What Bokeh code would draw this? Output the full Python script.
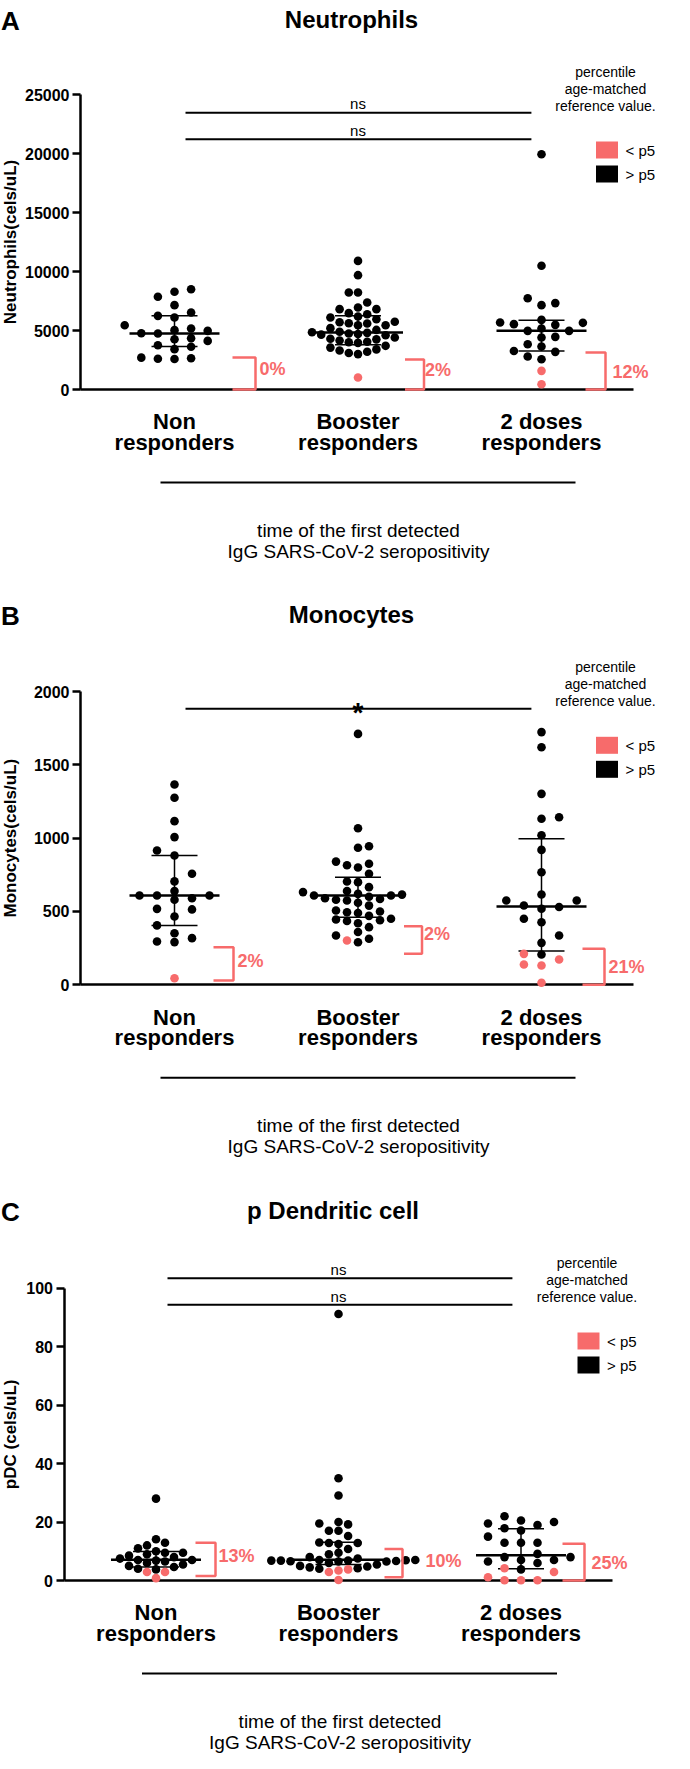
import numpy as np
from bokeh.plotting import figure
from bokeh.models import Range1d, FixedTicker, LinearAxis
from bokeh.embed import file_html
from bokeh.resources import INLINE
from bokeh.core.properties import value

FONT = "Liberation Sans"
RED = "#F76B6B"

# ---------------- data ----------------
cat_line1 = ["Non", "Booster", "2 doses"]
cat_line2 = ["responders", "responders", "responders"]

# Neutrophils (cels/uL): values above p5 (black) and below p5 (red)
neut_non = [8500, 8280, 7860, 7150, 6530, 6240, 6100, 5450, 5170, 5030, 4970, 4770,
            4750, 4350, 4260, 4120, 3750, 3620, 3420, 2700, 2650, 2600, 2580]
neut_non_low = []
neut_boost = [10900, 9690, 8220, 8220, 7370, 6950, 6810, 6810, 6470, 6380, 6190, 6100,
              5960, 5740, 5700, 5620, 5600, 5450, 5450, 5200, 5050, 4900, 4850, 4800,
              4750, 4700, 4650, 4600, 4400, 4300, 4250, 4150, 4050, 4000, 3950, 3700,
              3550, 3400, 3300, 3200, 3100, 3000]
neut_boost_low = [1020]
neut_two = [19940, 10480, 7740, 7320, 7150, 5900, 5680, 5650, 5540, 5480, 5170, 4970,
            4970, 4460, 4410, 3840, 3640, 3270, 3190, 2800, 2570]
neut_two_low = [1580, 450]
neut_median = [4750, 4830, 4970]
neut_q1 = [3640, 3790, 3270]
neut_q3 = [6240, 6240, 5870]
neut_p5 = [2712, 2542, 3136]
neut_pct = ["0%", "2%", "12%"]

# Monocytes (cels/uL)
mono_non = [1366, 1275, 1116, 1007, 916, 882, 757, 705, 639, 609, 609, 609, 590, 580,
            518, 514, 466, 405, 352, 318, 295, 291]
mono_non_low = [45]
mono_boost = [1711, 1068, 945, 935, 840, 825, 815, 800, 757, 705, 700, 666, 639, 632,
              620, 615, 609, 609, 600, 590, 585, 580, 575, 560, 540, 507, 500, 495, 490,
              470, 450, 445, 440, 435, 420, 393, 360, 336, 314, 290]
mono_boost_low = [302]
mono_two = [1723, 1620, 1302, 1143, 1132, 1020, 920, 768, 616, 575, 575, 541, 530, 518,
            450, 427, 336, 286, 207]
mono_two_low = [211, 173, 139, 132, 14]
mono_median = [609, 609, 534]
mono_q1 = [405, 461, 230]
mono_q3 = [882, 734, 996]
mono_p5_top = [256, 400, 245]
mono_p5_bottom = [30, 211, 0]
mono_pct = ["2%", "2%", "21%"]

# pDC (cels/uL)
pdc_non = [28, 14.1, 12.9, 12, 11, 10, 9.5, 9.5, 9, 8.5, 8, 7.5, 7, 7, 6.8, 6.5, 6, 5.5,
           5, 4.6, 4, 3.8]
pdc_non_low = [2.9, 2.9, 0.8]
pdc_boost = [91.2, 35, 29.1, 20, 19.5, 19.2, 17, 17, 15.2, 13, 12.8, 12.8, 12.5, 10.8,
             9.5, 9, 8, 7.5, 7, 7, 6.9, 6.8, 6.8, 6.8, 6.7, 6.6, 6.5, 6.5, 6, 5.5, 5,
             4.8, 4.5, 4.2, 4]
pdc_boost_low = [3.8, 3.4, 2.9, 0.2]
pdc_two = [22, 20.5, 20, 19.5, 19, 17.9, 17.1, 15, 12.9, 12.9, 12.9, 9.1, 8, 8, 7, 7,
           6.5, 6, 3.8]
pdc_two_low = [4.2, 2.9, 1.1, 0.1, 0.1, 0.1]
pdc_median = [7.1, 7.1, 8.6]
pdc_q1 = [4.6, 5.5, 4.0]
pdc_q3 = [9.9, 13.1, 17.7]
pdc_p5_top = [12.9, 10.8, 12.6]
pdc_p5_bottom = [1.5, 1.1, 0]
pdc_pct = ["13%", "10%", "25%"]

# ---------------- panels: data + layout ----------------
PANELS = [
    dict(name="default", letter="A", title="Neutrophils", ylabel="Neutrophils(cels/uL)",
         ticks=[0, 5000, 10000, 15000, 20000, 25000], ymax=25000,
         black=[neut_non, neut_boost, neut_two], red=[neut_non_low, neut_boost_low, neut_two_low],
         med=neut_median, q1=neut_q1, q3=neut_q3,
         p5_top=neut_p5, p5_bottom=[0, 0, 0], pct=neut_pct,
         sig_y=[23450, 21210], sig_txt=["ns", "ns"], sig_txt_y=[24237, 21975],
         sig_x=(1.06, 2.945), sig_size="15px", sig_bold=False,
         shift=5, axis_x=88, g1_x=182, k=183.5, base=392,
         ky=295 / 25000, swarm_s=[16.6, 9.2, 13.8],
         br_px=[(58, 81), (47, 66), (44, 64)], pct_dx=[85, 67, 71], pct_up=[20.3, 19.5, 17.5]),
    dict(name="B", letter="B", title="Monocytes", ylabel="Monocytes(cels/uL)",
         ticks=[0, 500, 1000, 1500, 2000], ymax=2000,
         black=[mono_non, mono_boost, mono_two], red=[mono_non_low, mono_boost_low, mono_two_low],
         med=mono_median, q1=mono_q1, q3=mono_q3,
         p5_top=mono_p5_top, p5_bottom=mono_p5_bottom, pct=mono_pct,
         sig_y=[1882], sig_txt=["*"], sig_txt_y=[1857],
         sig_x=(1.06, 2.945), sig_size="28px", sig_bold=True,
         shift=-2, axis_x=88, g1_x=182, k=183.5, base=994.3,
         ky=293.3 / 2000, swarm_s=[17.5, 11.0, 17.6],
         br_px=[(39, 59), (46, 64), (41, 63)], pct_dx=[63, 66, 67], pct_up=[24.3, 51, 17.6]),
    dict(name="C", letter="C", title="p Dendritic cell", ylabel="pDC (cels/uL)",
         ticks=[0, 20, 40, 60, 80, 100], ymax=100,
         black=[pdc_non, pdc_boost, pdc_two], red=[pdc_non_low, pdc_boost_low, pdc_two_low],
         med=pdc_median, q1=pdc_q1, q3=pdc_q3,
         p5_top=pdc_p5_top, p5_bottom=pdc_p5_bottom, pct=pdc_pct,
         sig_y=[103.4, 94.3], sig_txt=["ns", "ns"], sig_txt_y=[106.4, 97.2],
         sig_x=(1.063, 2.953), sig_size="15px", sig_bold=False,
         shift=-10, axis_x=71.5, g1_x=163.5, k=182.5, base=1598,
         ky=292.3 / 100, swarm_s=[9.0, 9.6, 16.5],
         br_px=[(39.5, 59.5), (46, 64), (41.5, 63.5)], pct_dx=[62.5, 87, 70.5],
         pct_up=[24.7, 19.7, 18]),
]

DOT = 8.6
FIG_W = 658
FIG_H = 1753
TOP = 8          # page y of the figure's top edge
LEG_DX = 431     # legend text centre, px right of first group


def swarm_offsets(vals, s_px, h_px, ky):
    vals = np.asarray(vals, float)
    order = np.argsort(vals, kind="stable")
    placed = []
    offs = np.zeros(len(vals))
    g = s_px / 2.0
    for idx in order:
        y = vals[idx] * ky
        m = 0
        while True:
            if m == 0:
                cands = [0.0]
            else:
                left = sum(1 for (px, py) in placed if px < 0)
                right = sum(1 for (px, py) in placed if px > 0)
                cands = [m * g, -m * g] if right < left else [-m * g, m * g]
            found = None
            for c in cands:
                if all(not (abs(y - py) < h_px and abs(c - px) < s_px - 1e-9) for px, py in placed):
                    found = c
                    break
            if found is not None:
                offs[idx] = found
                placed.append((found, y))
                break
            m += 1
    return offs


def ranges(c):
    k, ky, g1 = c["k"], c["ky"], c["g1_x"]
    x0 = 1 - (g1 - 8) / k
    x1 = 1 + (8 + FIG_W - g1) / k
    bpage = c["base"] + c["shift"]
    y1 = (bpage - TOP) / ky
    y0 = -(TOP + FIG_H - bpage) / ky
    return Range1d(x0, x1), Range1d(y0, y1)


xrA, yrA = ranges(PANELS[0])
p = figure(width=FIG_W, height=FIG_H, x_range=xrA, y_range=yrA,
           toolbar_location=None, output_backend="svg",
           min_border_left=0, min_border_right=0, min_border_top=0, min_border_bottom=0,
           title=None)
p.outline_line_color = None
p.xgrid.visible = False
p.ygrid.visible = False
p.background_fill_color = "white"
p.border_fill_color = "white"
for c in PANELS[1:]:
    xr, yr = ranges(c)
    p.extra_x_ranges[c["name"]] = xr
    p.extra_y_ranges[c["name"]] = yr


def style_yaxis(ax, c, xa):
    ax.fixed_location = xa
    ax.ticker = FixedTicker(ticks=c["ticks"])
    ax.bounds = (0, c["ymax"])
    ax.axis_line_width = 2.5
    ax.axis_line_color = "black"
    ax.major_tick_line_width = 2.5
    ax.major_tick_line_color = "black"
    ax.major_tick_in = 0
    ax.major_tick_out = 8
    ax.minor_tick_line_color = None
    ax.major_label_text_font = FONT
    ax.major_label_text_font_size = "16px"
    ax.major_label_text_font_style = "bold"
    ax.major_label_text_color = "black"
    ax.major_label_standoff = 3


def style_xaxis(ax, xa):
    ax.fixed_location = 0
    ax.ticker = FixedTicker(ticks=[])
    ax.bounds = (xa, 3.5)
    ax.axis_line_width = 2.5
    ax.axis_line_color = "black"
    ax.major_tick_line_color = None
    ax.minor_tick_line_color = None
    ax.major_label_text_font_size = "0px"


def build(c):
    n = c["name"]
    R = dict(x_range_name=n, y_range_name=n)
    k, ky, g1 = c["k"], c["ky"], c["g1_x"]
    x0 = 1 - (g1 - 8) / k
    xa = 1 - (g1 - c["axis_x"]) / k

    if n == "default":
        style_yaxis(p.yaxis[0], c, xa)
        style_xaxis(p.xaxis[0], xa)
    else:
        ya = LinearAxis(**R)
        style_yaxis(ya, c, xa)
        p.add_layout(ya, "left")
        xb = LinearAxis(**R)
        style_xaxis(xb, xa)
        p.add_layout(xb, "below")

    X = lambda dpx: 1 + dpx / k
    Y = lambda up: up / ky
    FX = lambda fx: x0 + fx / k

    def txt(xs, ys, texts, size, bold=False, align="center", baseline="alphabetic",
            color="black", angle=0.0):
        p.text(x=xs, y=ys, text=texts, text_font=value(FONT), text_font_size=value(size),
               text_font_style="bold" if bold else "normal", text_align=align,
               text_baseline=baseline, text_color=color, angle=angle, **R)

    # dots
    bx, by, rx, ry = [], [], [], []
    for gi in range(3):
        blk = list(c["black"][gi])
        red = list(c["red"][gi])
        allv = blk + red
        offs = swarm_offsets(allv, c["swarm_s"][gi], DOT, ky)
        for j, v in enumerate(allv):
            xx = gi + 1 + offs[j] / k
            if j < len(blk):
                bx.append(xx); by.append(v)
            else:
                rx.append(xx); ry.append(v)
    p.scatter(x=bx, y=by, size=DOT, marker="circle", fill_color="black", line_color=None, **R)
    if rx:
        p.scatter(x=rx, y=ry, size=DOT, marker="circle", fill_color=RED, line_color=None,
                  level="overlay", **R)

    # median + IQR
    gx = [1, 2, 3]
    p.segment(x0=[g - 45 / k for g in gx], y0=c["med"], x1=[g + 45 / k for g in gx], y1=c["med"],
              line_width=2.5, line_color="black", **R)
    p.segment(x0=gx, y0=c["q1"], x1=gx, y1=c["q3"], line_width=1.5, line_color="black", **R)
    for arr in (c["q1"], c["q3"]):
        p.segment(x0=[g - 23 / k for g in gx], y0=arr, x1=[g + 23 / k for g in gx], y1=arr,
                  line_width=1.5, line_color="black", **R)

    # p5 brackets
    for gi in range(3):
        a = gi + 1 + c["br_px"][gi][0] / k
        b = gi + 1 + c["br_px"][gi][1] / k
        t, bt = c["p5_top"][gi], c["p5_bottom"][gi]
        p.line(x=[a, b, b, a], y=[t, t, bt, bt], line_width=2.5, line_color=RED,
               level="overlay", **R)
    txt([gi + 1 + c["pct_dx"][gi] / k for gi in range(3)], [Y(u) for u in c["pct_up"]],
        c["pct"], "18px", bold=True, align="left", baseline="middle", color=RED)

    # significance bars
    sx0, sx1 = c["sig_x"]
    m = len(c["sig_y"])
    p.segment(x0=[sx0] * m, y0=c["sig_y"], x1=[sx1] * m, y1=c["sig_y"],
              line_width=2, line_color="black", **R)
    txt([2.0] * len(c["sig_txt"]), c["sig_txt_y"], c["sig_txt"], c["sig_size"], bold=c["sig_bold"])

    # legend
    txt([X(LEG_DX)] * 3, [Y(318), Y(300.7), Y(283.7)],
        ["percentile", "age-matched", "reference value."], "14px", baseline="middle")
    p.rect(x=[X(LEG_DX + 1.5)] * 2, y=[Y(239.5), Y(215.5)], width=22, height=17,
           width_units="screen", height_units="screen", fill_color=[RED, "black"],
           line_color=None, **R)
    txt([X(LEG_DX + 20)] * 2, [Y(239.5), Y(215.5)], ["< p5", "> p5"], "15px", align="left",
        baseline="middle")

    # category labels
    txt(gx, [Y(-32.3)] * 3, cat_line1, "22px", bold=True)
    txt(gx, [Y(-53)] * 3, cat_line2, "22px", bold=True)

    # bottom annotation
    p.segment(x0=[X(-14)], y0=[Y(-93)], x1=[X(401)], y1=[Y(-93)], line_width=2,
              line_color="black", **R)
    txt([X(184)] * 2, [Y(-141), Y(-162)],
        ["time of the first detected", "IgG SARS-CoV-2 seropositivity"], "19px")

    # title, panel letter, y label
    txt([X(177)], [Y(370.5)], [c["title"]], "24px", bold=True)
    txt([FX(0.5)], [Y(369)], [c["letter"]], "26px", bold=True, align="left")
    txt([FX(9.5)], [c["ymax"] / 2], [c["ylabel"]], "17px", bold=True, baseline="middle",
        angle=np.pi / 2)


for c in PANELS:
    build(c)

open("out.html", "w").write(file_html(p, INLINE))
